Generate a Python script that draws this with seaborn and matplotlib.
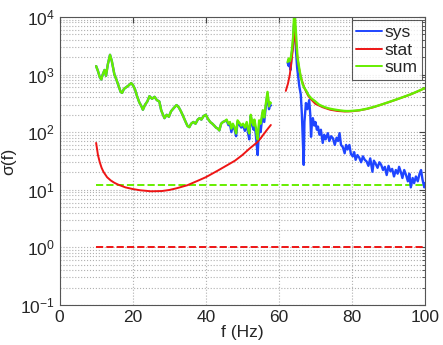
import numpy as np
import pandas as pd
import matplotlib
matplotlib.use("Agg")
import matplotlib.pyplot as plt
from matplotlib.lines import Line2D
from matplotlib.ticker import LogLocator, NullFormatter
import seaborn as sns

# ---------------- data ----------------
# segment 1 (10 .. 57.8 Hz)
f_sum1 = [10.0, 10.5, 11.0, 11.4, 11.8, 12.3, 12.7, 13.2, 13.8, 14.3, 15.0, 15.6, 16.2, 16.7,
          17.1, 17.6, 18.2, 18.8, 19.6, 20.1, 20.6, 21.2, 21.8, 22.4, 22.8, 23.4, 24.0, 24.6,
          25.3, 26.0, 26.6, 27.3, 27.8, 28.3, 28.7, 29.3, 29.9, 30.5, 31.2, 32.0, 32.6, 33.2,
          33.8, 34.5, 35.0, 35.5, 36.0, 36.6, 37.2, 37.8, 38.3, 38.8, 39.4, 40.0, 40.6, 41.2,
          41.8, 42.3, 42.8, 43.3, 43.7, 44.2, 44.7, 45.2, 45.7, 46.2, 46.6, 47.0, 47.4, 47.9,
          48.3, 48.7, 49.2, 49.7, 50.2, 50.7, 51.2, 51.6, 51.9, 52.3, 52.7, 53.1, 53.3, 53.7,
          54.0, 54.2, 54.6, 55.0, 55.6, 56.0, 56.4, 56.9, 57.3, 57.6, 57.8]
sum1 = [1400, 1150, 900, 820, 1000, 1200, 950, 1500, 2200, 1700, 1000, 800, 620, 500,
        480, 560, 600, 640, 710, 650, 560, 420, 330, 280, 245, 300, 340, 420,
        380, 410, 360, 340, 240, 200, 175, 200, 185, 230, 260, 295, 270, 230,
        190, 150, 128, 122, 140, 150, 140, 165, 175, 165, 190, 200, 170, 150,
        140, 130, 120, 115, 107, 140, 150, 155, 165, 140, 150, 115, 140, 120,
        95, 160, 145, 130, 140, 120, 150, 110, 95, 200, 150, 130, 165, 120,
        85, 75, 160, 140, 240, 180, 300, 500, 280, 330, 320]
sys1 = [1400, 1150, 900, 820, 1000, 1200, 950, 1500, 2200, 1700, 1000, 800, 620, 500,
        480, 560, 600, 640, 710, 650, 560, 420, 330, 280, 245, 300, 340, 420,
        380, 410, 360, 340, 240, 200, 175, 200, 185, 230, 260, 295, 270, 230,
        190, 150, 128, 122, 140, 150, 140, 165, 175, 165, 190, 200, 170, 150,
        140, 130, 120, 115, 107, 140, 150, 155, 160, 132, 140, 100, 130, 110,
        85, 150, 135, 120, 130, 105, 140, 95, 75, 190, 135, 110, 150, 90,
        55, 40, 130, 100, 220, 150, 270, 470, 250, 300, 290]

f_stat1 = [10.0, 10.5, 11.0, 11.5, 12.0, 13.0, 14.0, 15.0, 16.0, 18.0, 20.0, 22.0, 25.0,
           28.0, 30.0, 32.0, 35.0, 38.0, 40.0, 43.0, 46.0, 48.0, 50.0, 52.0, 54.0, 55.0,
           56.0, 57.0, 57.8]
stat1 = [65, 40, 30, 24, 20.5, 16.5, 14.5, 13.2, 12.3, 11.0, 10.3, 9.8, 9.4,
         9.5, 9.9, 10.6, 12.0, 14.5, 16.5, 21, 27, 32, 40, 52, 66, 78,
         95, 115, 133]

# segment 2 (62 .. 100 Hz)
f_stat2 = [61.9, 62.5, 63.0, 63.5, 64.0, 64.3, 64.6, 65.0, 65.5, 66.0, 67.0, 68.0, 69.0,
           70.0, 72.0, 74.0, 76.0, 78.0, 80.0, 82.0, 84.0, 86.0, 88.0, 90.0, 92.0, 94.0,
           96.0, 98.0, 100.0]
stat2 = [520, 700, 1000, 1800, 3500, 5600, 4000, 2200, 1300, 900, 580, 430, 360,
         310, 270, 245, 233, 228, 230, 238, 252, 272, 300, 330, 365, 405,
         450, 510, 580]

f_sum2 = [62.4, 62.7, 63.0, 63.3, 63.6, 63.9, 64.1, 64.3, 64.5, 64.8, 65.1, 65.4, 65.7,
          66.0, 66.5, 67.0, 67.5, 68.0, 68.5, 69.0, 70.0, 71.0, 72.0, 73.0, 74.0, 75.0,
          76.0, 77.0, 78.0, 79.0, 80.0, 82.0, 84.0, 86.0, 88.0, 90.0, 92.0, 94.0, 96.0,
          98.0, 100.0]
sum2 = [1650, 1900, 1700, 2000, 2800, 4500, 9000, 14000, 8000, 4000, 2000, 1500, 1150,
        900, 680, 580, 520, 450, 410, 380, 340, 300, 280, 265, 255, 248,
        242, 237, 233, 232, 234, 240, 254, 274, 300, 331, 366, 406, 452,
        512, 582]

f_sys2 = [62.4, 62.7, 63.0, 63.2, 63.5, 63.8, 64.1, 64.3, 64.5, 64.7, 65.0, 65.3, 65.6,
          66.0, 66.3, 66.6, 66.8, 67.0, 67.4, 67.8, 68.3, 68.6, 68.8, 69.1, 69.3, 69.7,
          70.0, 70.4, 70.7, 71.1, 71.5, 72.0, 72.4, 72.8, 73.4, 73.8, 74.3, 74.8, 75.3,
          75.8, 76.2, 76.6, 77.0, 77.5, 78.0, 78.4, 78.8, 79.3, 79.7, 80.2, 80.6, 81.0,
          81.5, 82.0, 82.5, 83.0, 83.5, 84.0, 84.5, 85.0, 85.6, 86.0, 86.5, 87.0, 87.5,
          88.0, 88.5, 89.0, 89.5, 90.0, 90.5, 91.0, 91.5, 92.0, 92.5, 92.9, 93.4, 93.8,
          94.3, 94.8, 95.3, 95.7, 96.1, 96.6, 97.0, 97.5, 98.0, 98.5, 98.9, 99.3, 99.8,
          100.0]
sys2 = [1600, 1400, 1800, 1200, 2200, 3000, 7000, 9000, 5000, 2500, 1300, 900, 620,
        450, 200, 60, 27, 150, 320, 250, 360, 200, 83, 160, 175, 130,
        150, 110, 125, 90, 110, 65, 90, 75, 96, 70, 85, 78, 60,
        80, 70, 96, 60, 55, 43, 60, 50, 60, 42, 38, 45, 33,
        40, 36, 30, 38, 33, 31, 26, 35, 20.5, 32, 28, 24, 30,
        27, 22, 25, 18, 26, 21, 23, 17, 22, 19, 25, 20, 16,
        22, 18, 14, 19, 11, 16, 13, 17, 14, 19, 22, 15, 11,
        13]

f_const = [10, 100]
sys_const = [12.2, 12.2]   # green dashed
stat_const = [1.0, 1.0]    # red dashed

labels = ["sys", "stat", "sum"]

# ---------------- style ----------------
sns.set_style("white")
plt.rcParams["font.family"] = ["Liberation Sans", "DejaVu Sans"]
plt.rcParams["mathtext.fontset"] = "custom"
plt.rcParams["mathtext.rm"] = "Liberation Sans"
plt.rcParams["mathtext.it"] = "Liberation Sans:italic"
plt.rcParams["mathtext.bf"] = "Liberation Sans:bold"

C_SYS = "#1f45ff"
C_STAT = "#ee1515"
C_SUM = "#66ee00"
LW = 1.4
LWN = 1.7
FS = 12.5

fig = plt.figure(figsize=(4.43, 3.45), dpi=100)
ax = fig.add_axes([0.1345, 0.116, 0.825, 0.835])

def seg(x, y, color, ls="-", lw=LW):
    d = pd.DataFrame({"f": x, "v": y})
    sns.lineplot(data=d, x="f", y="v", ax=ax, color=color, lw=lw, linestyle=ls,
                 estimator=None, sort=False)

seg(f_const, stat_const, C_STAT, "--")
seg(f_const, sys_const, C_SUM, "--")
seg(f_sum1, sys1, C_SYS, lw=LWN)
seg(f_sys2, sys2, C_SYS, lw=LWN)
seg(f_stat1, stat1, C_STAT)
seg(f_stat2, stat2, C_STAT)
seg(f_sum1, sum1, C_SUM, lw=LWN)
seg(f_sum2, sum2, C_SUM, lw=LWN)

ax.set_yscale("log")
ax.set_xlim(0, 100)
ax.set_ylim(0.1, 1e4)
ax.set_xticks([0, 20, 40, 60, 80, 100])
ax.yaxis.set_major_locator(LogLocator(base=10, numticks=10))
ax.yaxis.set_minor_locator(LogLocator(base=10, subs=np.arange(2, 10), numticks=20))
ax.yaxis.set_minor_formatter(NullFormatter())

ax.grid(True, which="major", axis="both", color="#b0b0b0", linestyle=":", linewidth=0.8)
ax.grid(True, which="minor", axis="y", color="#b0b0b0", linestyle=":", linewidth=0.8)

ax.tick_params(which="both", direction="in", top=True, right=True, labelsize=FS,
               color="#444444")
ax.tick_params(which="major", length=4)
ax.tick_params(which="minor", length=2)
for s in ax.spines.values():
    s.set_color("#555555")
    s.set_linewidth(0.8)

ax.set_xlabel("f (Hz)", fontsize=FS, labelpad=0)
ax.set_ylabel("σ(f)", fontsize=FS, labelpad=3)

handles = [Line2D([], [], color=c, lw=LW) for c in (C_SYS, C_STAT, C_SUM)]
leg = ax.legend(handles, labels, loc="upper right", fontsize=FS, frameon=True,
                fancybox=False, edgecolor="#333333", handlelength=1.45,
                handletextpad=0.15, borderpad=0.25, labelspacing=0.15,
                borderaxespad=0.2)
leg.get_frame().set_linewidth(0.8)

fig.savefig("out.png", dpi=100)
